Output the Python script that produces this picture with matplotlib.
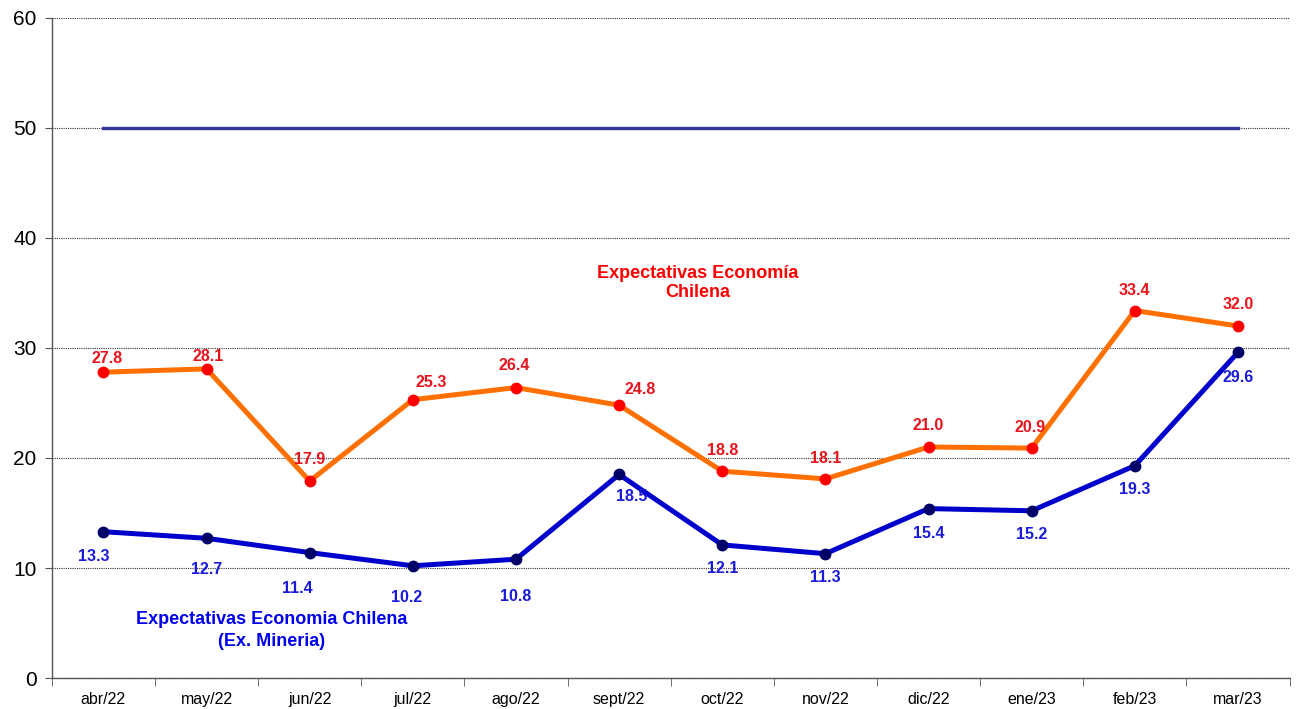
import matplotlib
matplotlib.use("Agg")
import matplotlib.pyplot as plt
import numpy as np

# Datos
meses = ["abr/22", "may/22", "jun/22", "jul/22", "ago/22", "sept/22",
         "oct/22", "nov/22", "dic/22", "ene/23", "feb/23", "mar/23"]
economia_chilena = [27.8, 28.1, 17.9, 25.3, 26.4, 24.8, 18.8, 18.1, 21.0, 20.9, 33.4, 32.0]
ex_mineria = [13.3, 12.7, 11.4, 10.2, 10.8, 18.5, 12.1, 11.3, 15.4, 15.2, 19.3, 29.6]
umbral = [50] * len(meses)

# desplazamiento de etiquetas respecto al punto (px)
off_naranja = [(4, 15), (2, 13), (0, 23), (18, 18), (-2, 23), (21, 17),
               (0, 22), (0, 21), (0, 22), (-2, 22), (0, 21), (0, 22)]
off_azul = [(-10, -24), (0, -30), (-12, -35), (-6, -31), (0, -36), (13, -21),
            (0, -23), (0, -23), (0, -24), (0, -23), (0, -23), (0, -24)]

plt.rcParams['font.family'] = ['Liberation Sans', 'DejaVu Sans']

fig = plt.figure(figsize=(12.96, 7.09), dpi=100)
ax = fig.add_axes([0.040, 0.0437, 0.955, 0.931])
x = np.arange(len(meses))

ax.plot(x, umbral, color='#333399', lw=2.4, zorder=2)
ax.plot(x, economia_chilena, color='#FF7000', lw=3.6, marker='o', ms=7.5,
        mfc='#FF0000', mec='#FF0000', zorder=3)
ax.plot(x, ex_mineria, color='#0000CC', lw=3.6, marker='o', ms=7.5,
        mfc='#000066', mec='#000066', zorder=3)

px = 0.72  # px -> pt a 100 dpi
for xi, v, (dx, dy) in zip(x, economia_chilena, off_naranja):
    ax.annotate(f"{v:.1f}", (xi, v), xytext=(dx * px, (dy - 1) * px), textcoords='offset points',
                ha='center', va='center', color='#E8141C', fontsize=11.5, fontweight='bold')
for xi, v, (dx, dy) in zip(x, ex_mineria, off_azul):
    ax.annotate(f"{v:.1f}", (xi, v), xytext=(dx * px, (dy - 1) * px), textcoords='offset points',
                ha='center', va='center', color='#1A1AD9', fontsize=11.5, fontweight='bold')

ax.text(5.76, 35.9, "Expectativas Economía\nChilena", ha='center', va='center',
        color='#FF0000', fontsize=13, fontweight='bold', linespacing=1.1)
ax.text(1.63, 4.3, "Expectativas Economia Chilena\n(Ex. Mineria)", ha='center', va='center',
        color='#0000EE', fontsize=13, fontweight='bold', linespacing=1.4)

ax.set_xlim(-0.5, len(meses) - 0.5)
ax.set_ylim(0, 60)
ax.set_yticks(range(0, 61, 10))
ax.yaxis.grid(True, linestyle=(0, (1, 1)), color='#333333', lw=0.8)
ax.set_axisbelow(True)

ax.set_xticks(x)
ax.set_xticklabels(meses, fontsize=11.5)
ax.set_xticks(np.arange(-0.5, len(meses), 1), minor=True)
ax.tick_params(axis='x', which='major', length=0, pad=10)
ax.tick_params(axis='x', which='minor', length=6, direction='out', color='#555555')
ax.tick_params(axis='y', labelsize=15, length=5, color='#555555', pad=6)

for s in ['top', 'right']:
    ax.spines[s].set_visible(False)
for s in ['left', 'bottom']:
    ax.spines[s].set_color('#555555')
    ax.spines[s].set_linewidth(1)

fig.savefig('out.png', dpi=100)
